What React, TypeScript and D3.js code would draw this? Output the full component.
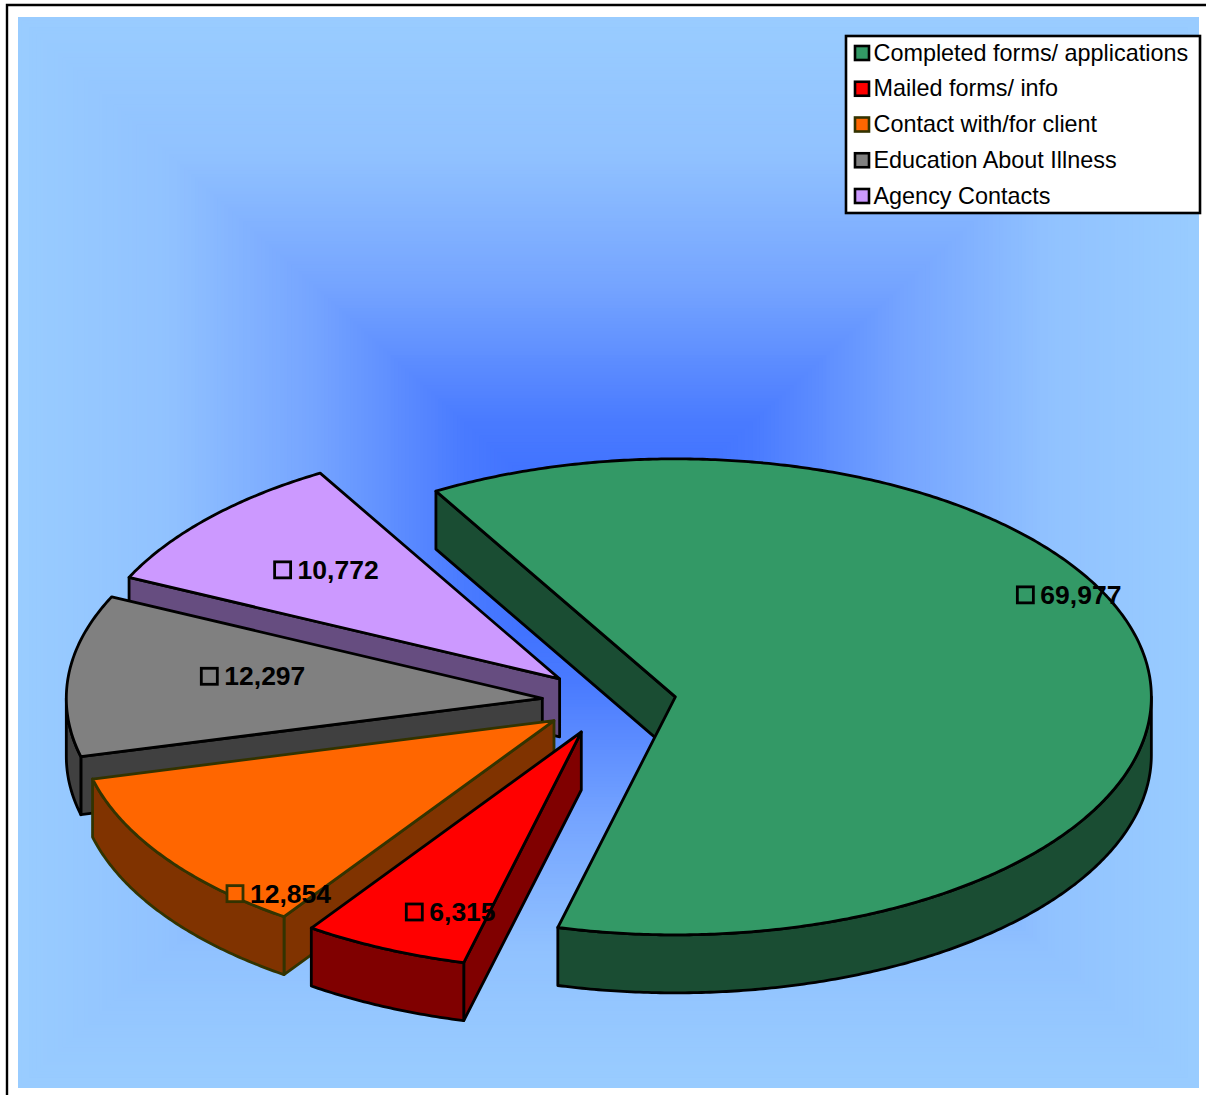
import React from "react";
import * as d3 from "d3";

const categories = [
  "Completed forms/ applications",
  "Mailed forms/ info",
  "Contact with/for client",
  "Education About Illness",
  "Agency Contacts",
];
const values = [69977, 6315, 12854, 12297, 10772];
const topColors = ["#339966", "#ff0000", "#ff6600", "#808080", "#cc99ff"];
const sideColors = ["#1a4d33", "#800000", "#803300", "#404040", "#664d80"];
const edgeColors = ["#000000", "#000000", "#333300", "#000000", "#000000"];

// background path gradient, from the middle of the plot to its border
const gradientStops = [0, 0.25, 0.5, 0.75, 1];
const gradientColors = ["#3366ff", "#4a7bff", "#75a4ff", "#91c2ff", "#99ccff"];

const width = 1206;
const height = 1095;
const plot = { left: 18, top: 17, right: 1199, bottom: 1088 };

const cx = 609;
const cy = 701.5;
const rx = 476;
const tilt = 0.5;
const depth = 58;
const explode = 67;

// hand placed data labels, relative to the tip of each slice
const labelNudge: [number, number][] = [
  [350, -102],
  [-167, 180],
  [-319, 173],
  [-333, -22],
  [-277, -109],
];

const rad = (deg: number) => (deg * Math.PI) / 180;
const font = "'Liberation Sans', Arial, sans-serif";

const pie = d3
  .pie<number>()
  .sort(null)
  .startAngle(rad(-30.2))
  .endAngle(rad(329.8));

const arcs = pie(values);
const line = d3.line();
const fmt = d3.format(",");

function sweep(a0: number, a1: number) {
  const n = Math.max(2, Math.ceil((a1 - a0) / rad(0.5)));
  return d3.range(n + 1).map((i) => a0 + ((a1 - a0) * i) / n);
}

function Slice({ i }: { i: number }) {
  const { startAngle: a0, endAngle: a1 } = arcs[i];
  const mid = (a0 + a1) / 2;
  const tx = cx + explode * Math.sin(mid);
  const ty = cy - explode * tilt * Math.cos(mid);
  const at = (a: number, drop = 0): [number, number] => [
    tx + rx * Math.sin(a),
    ty - rx * tilt * Math.cos(a) + drop,
  ];

  const top = [[tx, ty], ...sweep(a0, a1).map((a) => at(a))] as [number, number][];

  // front part of the rim only
  const r0 = Math.max(a0, rad(90));
  const r1 = Math.min(a1, rad(270));
  const rim =
    r1 > r0
      ? [
          ...sweep(r0, r1).map((a) => at(a)),
          ...sweep(r0, r1).reverse().map((a) => at(a, depth)),
        ]
      : null;

  // the cut side along the start angle faces the viewer on these slices
  const cut: [number, number][] = [
    [tx, ty],
    at(a0),
    at(a0, depth),
    [tx, ty + depth],
  ];

  const shared = {
    stroke: edgeColors[i],
    strokeWidth: 2.8,
    strokeLinejoin: "round" as const,
  };
  return (
    <g>
      <path d={line(cut) + "Z"} fill={sideColors[i]} {...shared} />
      {rim && <path d={line(rim) + "Z"} fill={sideColors[i]} {...shared} />}
      <path d={line(top) + "Z"} fill={topColors[i]} {...shared} />
    </g>
  );
}

function DataLabel({ i }: { i: number }) {
  const mid = (arcs[i].startAngle + arcs[i].endAngle) / 2;
  const x = cx + explode * Math.sin(mid) + labelNudge[i][0];
  const y = cy - explode * tilt * Math.cos(mid) + labelNudge[i][1];
  return (
    <g>
      <rect
        x={x - 8}
        y={y - 8}
        width={16}
        height={16}
        fill={topColors[i]}
        stroke={edgeColors[i]}
        strokeWidth={2.8}
      />
      <text
        x={x + 15}
        y={y + 9}
        fontFamily={font}
        fontWeight="bold"
        fontSize={26.5}
        fill="#000"
      >
        {fmt(values[i])}
      </text>
    </g>
  );
}

export default function App() {
  const color = d3
    .scaleLinear<string>()
    .domain(gradientStops)
    .range(gradientColors)
    .interpolate(d3.interpolateRgb);

  const midX = (plot.left + plot.right) / 2;
  const midY = (plot.top + plot.bottom) / 2;
  const halfW = (plot.right - plot.left) / 2;
  const halfH = (plot.bottom - plot.top) / 2;
  const steps = d3.range(1, 0, -1 / 160);

  const legendY = d3.scalePoint<string>().domain(categories).range([53, 196]);

  return (
    <svg
      width={width}
      height={height}
      style={{ position: "absolute", left: 0, top: 0, display: "block" }}
    >
      <rect width={width} height={height} fill="#fff" />
      <path
        d={`M7,${height}V5H${width}`}
        fill="none"
        stroke="#000"
        strokeWidth={2.4}
      />

      {steps.map((t) => (
        <rect
          key={t}
          x={midX - halfW * t}
          y={midY - halfH * t}
          width={2 * halfW * t}
          height={2 * halfH * t}
          fill={color(t)}
        />
      ))}

      {[4, 3, 2, 1, 0].map((i) => (
        <Slice key={i} i={i} />
      ))}
      {[0, 1, 2, 3, 4].map((i) => (
        <DataLabel key={i} i={i} />
      ))}

      <rect
        x={846}
        y={36}
        width={354}
        height={177}
        fill="#fff"
        stroke="#000"
        strokeWidth={2.6}
      />
      {categories.map((c, i) => (
        <g key={c}>
          <rect
            x={855}
            y={legendY(c)! - 7}
            width={14}
            height={14}
            fill={topColors[i]}
            stroke={edgeColors[i]}
            strokeWidth={2.6}
          />
          <text
            x={873.5}
            y={legendY(c)! + 7.6}
            fontFamily={font}
            fontSize={23.4}
            fill="#000"
          >
            {c}
          </text>
        </g>
      ))}
    </svg>
  );
}
